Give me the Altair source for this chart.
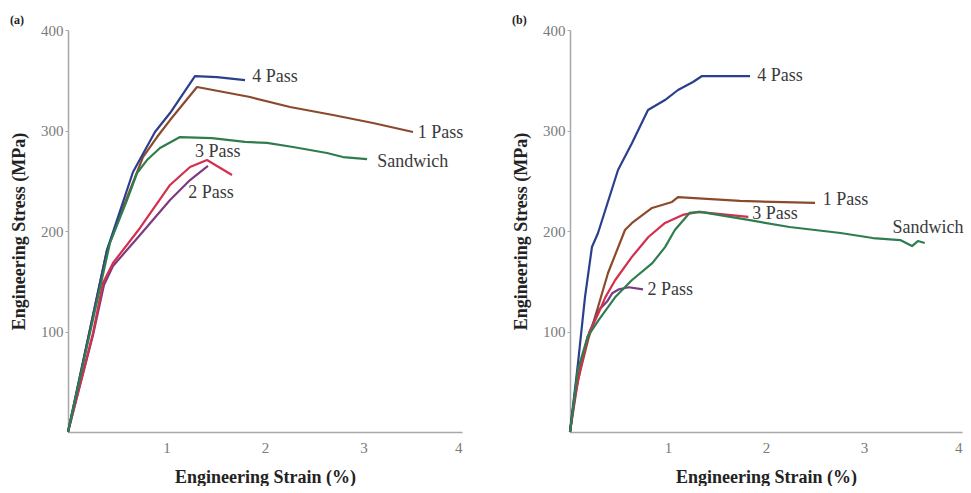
import altair as alt
import pandas as pd

FONT = "Liberation Serif"
SERIES = ["1 Pass", "2 Pass", "3 Pass", "4 Pass", "Sandwich"]

# ---------------- Panel (a) ----------------
a_1pass_strain = [0, 0.396, 0.569, 0.650, 0.761, 0.904, 1.036, 1.310, 1.848, 2.254, 2.690, 3.096, 3.503]
a_1pass_stress = [0, 181.1, 225.9, 245.8, 273.6, 293.5, 310.4, 343.3, 333.3, 323.4, 315.4, 307.5, 298.5]

a_2pass_strain = [0, 0.254, 0.365, 0.457, 0.731, 1.036, 1.239, 1.421]
a_2pass_stress = [0, 96.5, 146.3, 165.2, 196.0, 230.8, 250.7, 264.7]

a_3pass_strain = [0, 0.254, 0.355, 0.457, 0.731, 1.036, 1.239, 1.411, 1.665]
a_3pass_stress = [0, 98.5, 148.3, 168.2, 203.0, 245.8, 263.7, 270.6, 255.7]

a_4pass_strain = [0, 0.396, 0.660, 0.883, 1.036, 1.289, 1.513, 1.797]
a_4pass_stress = [0, 181.1, 258.7, 298.5, 317.4, 354.2, 353.2, 350.2]

a_sand_strain = [0, 0.426, 0.599, 0.701, 0.802, 0.934, 1.137, 1.462, 1.797, 2.020, 2.284, 2.629, 2.792, 3.036]
a_sand_stress = [0, 188.1, 230.8, 257.7, 270.6, 282.6, 293.5, 292.5, 288.6, 287.6, 283.6, 277.6, 273.6, 271.6]

a_label_text = ["4 Pass", "1 Pass", "Sandwich", "3 Pass", "2 Pass"]
a_label_strain = [1.87, 3.55, 3.14, 1.29, 1.22]
a_label_stress = [353, 298, 269, 279, 238]

# ---------------- Panel (b) ----------------
b_1pass_strain = [0, 0.082, 0.184, 0.286, 0.388, 0.561, 0.633, 0.837, 1.041, 1.102, 1.735, 2.500]
b_1pass_stress = [0, 51.7, 91.5, 124.4, 158.2, 201.0, 208.0, 222.9, 228.9, 233.8, 229.9, 227.9]

b_2pass_strain = [0, 0.05, 0.12, 0.20, 0.30, 0.38, 0.43, 0.50, 0.60, 0.745]
b_2pass_stress = [0, 38, 72, 100, 122, 130, 138, 142, 144, 142]

b_3pass_strain = [0, 0.05, 0.12, 0.18, 0.29, 0.36, 0.46, 0.63, 0.80, 0.97, 1.15, 1.31, 1.82]
b_3pass_stress = [0, 35, 69, 95, 118, 134, 151, 174, 194, 208, 216, 219, 214]

b_4pass_strain = [0, 0.082, 0.153, 0.224, 0.286, 0.490, 0.633, 0.796, 0.969, 1.102, 1.255, 1.347, 1.837]
b_4pass_stress = [0, 68.7, 134.3, 184.1, 198.0, 260.7, 287.6, 320.4, 330.3, 340.3, 348.3, 354.2, 354.2]

b_sand_strain = [0, 0.02, 0.08, 0.18, 0.29, 0.46, 0.63, 0.84, 0.97, 1.07, 1.22, 1.33, 1.82, 2.24, 2.76, 3.09, 3.37, 3.49, 3.55, 3.62]
b_sand_stress = [0, 15, 62, 95, 111, 134, 151, 168, 184, 201, 218, 219, 211, 204, 198, 193, 191, 185, 190, 188]

b_label_text = ["4 Pass", "1 Pass", "3 Pass", "Sandwich", "2 Pass"]
b_label_strain = [1.91, 2.58, 1.86, 3.29, 0.79]
b_label_stress = [354, 231, 217, 203, 141]

A_COLORS = ["#8c4a2c", "#7e3b82", "#d3304d", "#2b3f8c", "#2f7d4e"]
B_COLORS = ["#b5412f", "#8e3f78", "#d8402e", "#2b3f8c", "#2f7d4e"]


def curves(pairs):
    rows = []
    for name, (xs, ys) in zip(SERIES, pairs):
        for i, (x, y) in enumerate(zip(xs, ys)):
            rows.append({"series": name, "strain": x, "stress": y, "idx": i})
    return pd.DataFrame(rows)


def panel(df, labels, colors, tag, w):
    xax = alt.Axis(values=[1, 2, 3, 4], format="d", title="Engineering Strain (%)",
                   labelPadding=8, titlePadding=13, ticks=False)
    yax = alt.Axis(values=[100, 200, 300, 400], format="d", title="Engineering Stress (MPa)",
                   labelPadding=2, titlePadding=12, ticks=True, tickSize=3)
    lines = alt.Chart(df).mark_line(strokeWidth=2.2, strokeJoin="round").encode(
        x=alt.X("strain:Q", scale=alt.Scale(domain=[0, 4], nice=False), axis=xax),
        y=alt.Y("stress:Q", scale=alt.Scale(domain=[0, 400], nice=False), axis=yax),
        color=alt.Color("series:N", scale=alt.Scale(domain=SERIES, range=colors), legend=None),
        order="idx:Q",
    )
    text = alt.Chart(labels).mark_text(
        align="left", baseline="middle", font=FONT, fontSize=18, color="#3a3a3a"
    ).encode(x="strain:Q", y="stress:Q", text="label:N")
    tagc = alt.Chart(pd.DataFrame({"t": [tag]})).mark_text(
        align="left", baseline="middle", font=FONT, fontSize=12, fontWeight="bold", color="#222"
    ).encode(x=alt.value(-58), y=alt.value(-10), text="t:N")
    return alt.layer(lines, text, tagc).properties(width=w, height=402)


df_a = curves([(a_1pass_strain, a_1pass_stress), (a_2pass_strain, a_2pass_stress),
               (a_3pass_strain, a_3pass_stress), (a_4pass_strain, a_4pass_stress),
               (a_sand_strain, a_sand_stress)])
df_b = curves([(b_1pass_strain, b_1pass_stress), (b_2pass_strain, b_2pass_stress),
               (b_3pass_strain, b_3pass_stress), (b_4pass_strain, b_4pass_stress),
               (b_sand_strain, b_sand_stress)])
lab_a = pd.DataFrame({"label": a_label_text, "strain": a_label_strain, "stress": a_label_stress})
lab_b = pd.DataFrame({"label": b_label_text, "strain": b_label_strain, "stress": b_label_stress})

chart = alt.hconcat(
    panel(df_a, lab_a, A_COLORS, "(a)", 394),
    panel(df_b, lab_b, B_COLORS, "(b)", 392),
    spacing=108, bounds="flush",
).properties(
    padding={"left": 10, "top": 14, "right": 0, "bottom": 0},
    background="white",
).configure_view(stroke=None).configure_axis(
    grid=False,
    domainColor="#a8a8a8", domainWidth=1.5,
    tickColor="#a8a8a8",
    labelFont=FONT, labelFontSize=15, labelColor="#7a7a7a",
    titleFont=FONT, titleFontSize=18, titleFontWeight="bold", titleColor="#222",
)

chart.save("out.html", embed_options={"renderer": "svg", "actions": False})
